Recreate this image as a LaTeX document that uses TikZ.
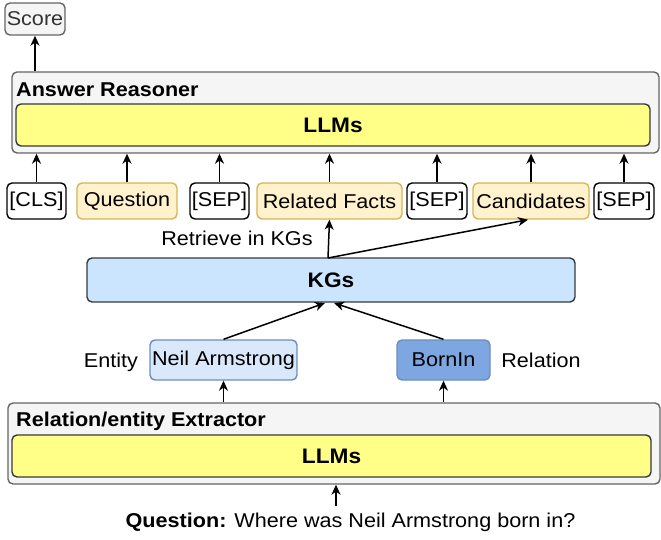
\documentclass[tikz,border=0pt]{standalone}
\usepackage{fontspec}
\setmainfont{Liberation Sans}[FakeStretch=1.08]
\usetikzlibrary{arrows.meta}
\definecolor{grayfill}{HTML}{F5F5F5}
\definecolor{graystroke}{HTML}{666666}
\definecolor{graytext}{HTML}{333333}
\definecolor{yellowfill}{HTML}{FFFF88}
\definecolor{darkstroke}{HTML}{36393D}
\definecolor{orfill}{HTML}{FFF2CC}
\definecolor{orstroke}{HTML}{D6B656}
\definecolor{kgfill}{HTML}{CCE5FF}
\definecolor{lbfill}{HTML}{DAE8FC}
\definecolor{bstroke}{HTML}{6C8EBF}
\definecolor{dbfill}{HTML}{7EA6E0}
\begin{document}
\begin{tikzpicture}[x=1pt,y=-1pt,
  every node/.style={font=\fontsize{20}{24}\selectfont, inner sep=0pt},
  box/.style={draw, rounded corners=5pt, line width=1.4pt, minimum height=#1},
  box/.default=36pt,
  graybox/.style={box=81pt, fill=grayfill, draw=graystroke},
  bigbold/.style={font=\fontsize{21}{25}\selectfont\bfseries},
  llmbox/.style={box=42pt, fill=yellowfill, draw=darkstroke, bigbold},
  tok/.style={box=36pt, fill=white, draw=black},
  hl/.style={box=36pt, fill=orfill, draw=orstroke},
  arr/.style={line width=1.5pt, -{Stealth[length=10pt,width=9pt,inset=3pt]}},
  title/.style={anchor=west, font=\fontsize{20}{24}\selectfont\bfseries}
]
\useasboundingbox (0,0) rectangle (661,540);

% Score
\node[box=32pt, fill=grayfill, draw=graystroke, text=graytext, minimum width=60pt] (score) at (35,19) {Score};

% Answer reasoner
\node[graybox, minimum width=647pt] (ar) at (335.5,112.5) {};
\node[title] (artitle) at (16,90) {Answer Reasoner};
\node[llmbox, minimum width=634pt] (arllm) at (333,125) {LLMs};

% tokens
\node[tok, minimum width=59pt] (cls) at (36.5,201) {[CLS]};
\node[hl, minimum width=100pt] (q) at (127,201) {\raisebox{-2pt}{Question}};
\node[tok, minimum width=59pt] (sep1) at (219.5,201) {[SEP]};
\node[hl, minimum width=145pt] (rel) at (329.5,201) {Related Facts};
\node[tok, minimum width=60pt] (sep2) at (437,201) {[SEP]};
\node[hl, minimum width=116pt] (cand) at (531,201) {Candidates};
\node[tok, minimum width=60pt] (sep3) at (624,201) {[SEP]};

\foreach \n in {cls,q,sep1,rel,sep2,cand,sep3}
  \draw[arr] (\n.north) -- (\n.north |- ar.south);
\draw[arr] (score.south |- ar.north) -- (score.south);

% KGs
\node[box=44pt, fill=kgfill, draw=darkstroke, minimum width=488pt, bigbold] (kg) at (331,280) {KGs};
\node (retr) at (237,238) {Retrieve in KGs};
\coordinate (kgtop) at (328,258);
\draw[arr] (kgtop) -- (rel.south);
\draw[arr] (kgtop) -- ([xshift=-3pt]cand.south);

% entity / relation
\node[box=40pt, fill=lbfill, draw=bstroke, minimum width=147pt] (neil) at (223.5,360) {Neil Armstrong};
\node[box=40pt, fill=dbfill, draw=bstroke, minimum width=93pt] (born) at (443.5,360) {\raisebox{-2pt}{BornIn}};
\node (entity) at (111,362) {Entity};
\node (relation) at (541,360) {Relation};
\coordinate (kgin1) at (325,303);
\coordinate (kgin2) at (334,303);
\draw[arr] (neil.north) -- (kgin1);
\draw[arr] (born.north) -- (kgin2);

% extractor
\node[graybox, minimum width=652pt] (ree) at (334,443.5) {};
\node[title] (reetitle) at (16,421) {Relation/entity Extractor};
\node[llmbox, minimum width=639pt] (reellm) at (331.5,456) {LLMs};
\draw[arr] (neil.south |- ree.north) -- (neil.south);
\draw[arr] (born.south |- ree.north) -- (born.south);

% question
\node (qtext) at (350.5,522) {\textbf{Question:} Where was Neil Armstrong born in?};
\coordinate (qarr) at (336,506);
\draw[arr] (qarr) -- (qarr |- ree.south);
\end{tikzpicture}
\end{document}
